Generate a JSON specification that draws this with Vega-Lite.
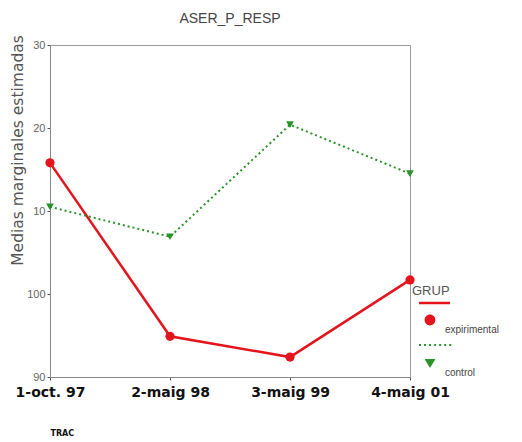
{
  "$schema": "https://vega.github.io/schema/vega-lite/v6.json",
  "autosize": "none",
  "padding": {"left": 50, "top": 45, "right": 112, "bottom": 65},
  "width": 360,
  "height": 332,
  "background": "white",
  "title": {
    "text": "ASER_P_RESP",
    "font": "Liberation Sans",
    "fontSize": 14,
    "fontWeight": "normal",
    "color": "#444444",
    "anchor": "middle",
    "frame": "group",
    "offset": 9
  },
  "config": {
    "view": {"stroke": "#999999", "strokeWidth": 1},
    "font": "Liberation Sans"
  },
  "data": {
    "values": [
      {"TRAC": "1-oct. 97", "GRUP": "expirimental", "media": 115.8},
      {"TRAC": "2-maig 98", "GRUP": "expirimental", "media": 94.9},
      {"TRAC": "3-maig 99", "GRUP": "expirimental", "media": 92.4},
      {"TRAC": "4-maig 01", "GRUP": "expirimental", "media": 101.7},
      {"TRAC": "1-oct. 97", "GRUP": "control", "media": 110.5},
      {"TRAC": "2-maig 98", "GRUP": "control", "media": 106.9},
      {"TRAC": "3-maig 99", "GRUP": "control", "media": 120.4},
      {"TRAC": "4-maig 01", "GRUP": "control", "media": 114.5}
    ]
  },
  "encoding": {
    "x": {
      "field": "TRAC",
      "type": "ordinal",
      "scale": {"type": "point", "padding": 0},
      "sort": ["1-oct. 97", "2-maig 98", "3-maig 99", "4-maig 01"],
      "axis": {
        "title": "TRAC",
        "titleFont": "DejaVu Sans",
        "titleFontSize": 8,
        "titleFontWeight": "bold",
        "titleColor": "#111111",
        "titleAnchor": "start",
        "titleAlign": "left",
        "titleX": 0,
        "titleY": 52,
        "labelAngle": 0,
        "labelFont": "DejaVu Sans",
        "labelFontSize": 14,
        "labelFontWeight": "bold",
        "labelColor": "#111111",
        "labelPadding": 5,
        "tickSize": 3,
        "tickColor": "#555555",
        "domainColor": "#888888",
        "grid": false
      }
    },
    "y": {
      "field": "media",
      "type": "quantitative",
      "scale": {"domain": [90, 130], "nice": false, "zero": false},
      "axis": {
        "title": "Medias marginales estimadas",
        "titleFont": "DejaVu Sans",
        "titleFontSize": 15.5,
        "titleFontWeight": "normal",
        "titleColor": "#555555",
        "titleAngle": -90,
        "titleAlign": "center",
        "titleBaseline": "middle",
        "titleX": -33,
        "titleY": 105,
        "values": [90, 100, 110, 120, 130],
        "labelExpr": "datum.value > 100 ? '' + (datum.value - 100) : datum.label",
        "labelFont": "Liberation Sans",
        "labelFontSize": 11,
        "labelColor": "#666666",
        "labelPadding": 2,
        "tickSize": 3,
        "tickColor": "#555555",
        "domainColor": "#888888",
        "grid": false
      }
    }
  },
  "layer": [
    {
      "transform": [{"filter": "datum.GRUP === 'expirimental'"}],
      "mark": {"type": "line", "color": "#e3141c", "strokeWidth": 2.5},
      "encoding": {}
    },
    {
      "transform": [{"filter": "datum.GRUP === 'control'"}],
      "mark": {"type": "line", "color": "#2a922a", "strokeWidth": 2, "strokeDash": [2, 3]},
      "encoding": {}
    },
    {
      "transform": [{"filter": "datum.GRUP === 'expirimental'"}],
      "mark": {"type": "point", "shape": "circle", "filled": true, "opacity": 1, "size": 85},
      "encoding": {
        "color": {"field": "GRUP", "type": "nominal"}
      }
    },
    {
      "transform": [{"filter": "datum.GRUP === 'control'"}],
      "mark": {"type": "point", "shape": "triangle-down", "filled": true, "opacity": 1, "size": 60},
      "encoding": {
        "color": {"field": "GRUP", "type": "nominal"}
      }
    },
    {
      "mark": {"type": "point", "filled": true, "opacity": 0},
      "encoding": {
        "color": {
          "field": "GRUP",
          "type": "nominal",
          "scale": {"domain": ["expirimental", "control"], "range": ["#e3141c", "#2a922a"]},
          "legend": {
            "title": "GRUP",
            "orient": "none",
            "legendX": 362,
            "legendY": 240,
            "padding": 0,
            "titleFont": "Liberation Sans",
            "titleFontSize": 13,
            "titleFontWeight": "normal",
            "titleColor": "#555555",
            "titlePadding": 4,
            "symbolSize": 1296,
            "symbolStrokeWidth": 0,
            "symbolOpacity": 1,
            "labelFont": "Liberation Sans",
            "labelFontSize": 10,
            "labelColor": "#444444",
            "labelBaseline": "middle",
            "labelOffset": 0,
            "rowPadding": 9,
            "encode": {
              "labels": {
                "update": {"dy": {"value": 10}, "dx": {"value": -3}}
              }
            }
          }
        },
        "shape": {
          "field": "GRUP",
          "type": "nominal",
          "scale": {
            "domain": ["expirimental", "control"],
            "range": [
              "M-0.61,-1.01H1.11V-0.87H-0.61Z M-0.3,0A0.3,0.3 0 1,0 0.3,0A0.3,0.3 0 1,0 -0.3,0Z",
              "M-0.61,-1.05h0.11v0.11h-0.11Z M-0.33,-1.05h0.11v0.11h-0.11Z M-0.05,-1.05h0.11v0.11h-0.11Z M0.23,-1.05h0.11v0.11h-0.11Z M0.51,-1.05h0.11v0.11h-0.11Z M0.79,-1.05h0.11v0.11h-0.11Z M1.07,-1.05h0.11v0.11h-0.11Z M-0.3,-0.22L0.3,-0.22L0,0.28Z"
            ]
          }
        }
      }
    }
  ]
}
